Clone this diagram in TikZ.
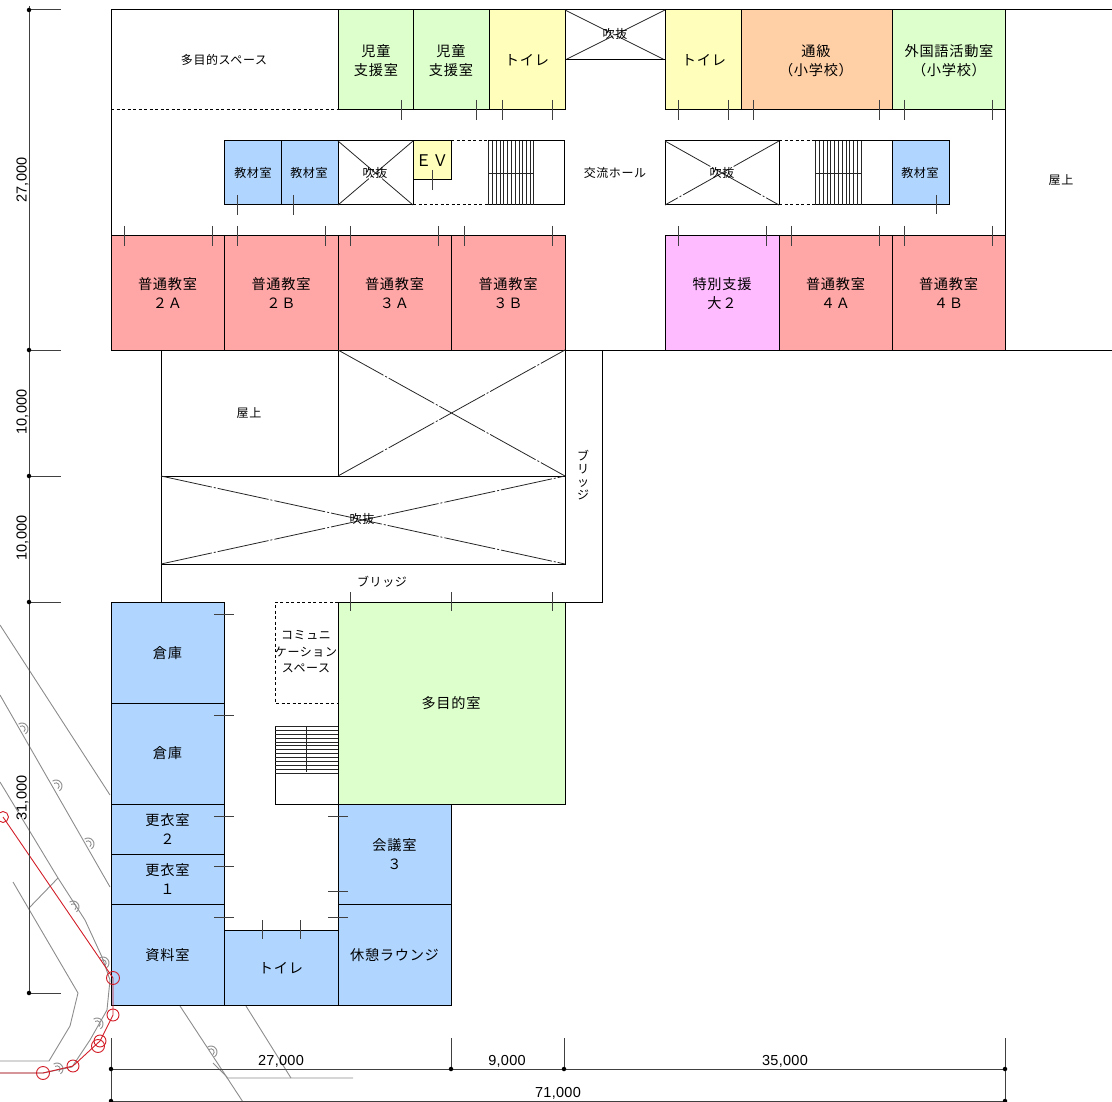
\documentclass[tikz,border=0pt]{standalone}
\usepackage{fontspec}
\setmainfont{Noto Sans CJK JP}[LetterSpace=5]
\newfontfamily\dimfont{Liberation Sans}[LetterSpace=2]
\definecolor{roomred}{RGB}{255,166,166}
\definecolor{roomgreen}{RGB}{221,255,204}
\definecolor{roomyellow}{RGB}{255,255,187}
\definecolor{roomorange}{RGB}{255,208,166}
\definecolor{roomblue}{RGB}{176,214,255}
\definecolor{roompink}{RGB}{255,187,255}
\definecolor{sitegray}{RGB}{140,140,140}
\definecolor{sitered}{RGB}{210,30,40}
\newcommand{\sitearc}[2]{\draw [sitewall] (#1,#2) ++(-125:6) arc (-125:55:6) (#1,#2) ++(-125:3.2) arc (-125:55:3.2);}
\tikzset{
  wall/.style={line width=1pt,black},
  room/.style={wall,fill=#1},
  doortick/.style={line width=1pt,black!75},
  stair/.style={line width=0.8pt,black!85},
  dashwall/.style={line width=1pt,black,dash pattern=on 3pt off 2.5pt},
  void/.style={line width=0.8pt,black!85,dash pattern=on 52pt off 2pt on 2pt off 2pt},
  dimline/.style={line width=1pt,black!75},
  dimdot/.style={circle,fill=black,inner sep=0pt,minimum size=4.5pt},
  sitewall/.style={line width=0.9pt,sitegray},
  siteline/.style={line width=0.9pt,sitered},
  biglabel/.style={font=\fontsize{14.2}{19}\selectfont,align=center,inner sep=0pt},
  smalllabel/.style={font=\fontsize{12}{16.5}\selectfont,align=center,inner sep=0pt},
  dimlabel/.style={font=\dimfont\fontsize{14.5}{16}\selectfont,inner sep=0pt}
}
\begin{document}
\begin{tikzpicture}[x=1pt,y=-1pt]
\useasboundingbox (0,0) rectangle (1112,1102);

% site lines
\draw [sitewall] (0,625) -- (110,795);
\draw [sitewall] (0,695) -- (110,887);
\draw [sitewall] (0,782) -- (58,878) -- (85,920) -- (102,957) -- (110,980) -- (107,1010) -- (90,1040) -- (72,1067) -- (43,1073) -- (0,1073);
\draw [sitewall] (13,882) -- (78,993) -- (70,1026) -- (49,1061) -- (0,1061);
\draw [sitewall] (29,908) -- (58,878);
\draw [sitewall] (180,1006) -- (243,1102);
\draw [sitewall] (246,1006) -- (291,1078);
\draw [sitewall] (213,1063) -- (227,1077) -- (227,1078) -- (353,1078);
\sitearc{22}{729}
\sitearc{56}{786}
\sitearc{88}{844}
\sitearc{73}{907}
\sitearc{103}{963}
\sitearc{97}{1024}
\sitearc{57}{1069}
\sitearc{211}{1052}

% north wing
\draw [wall] (111,10) -- (1112,10);
\draw [wall] (111,10) -- (111,236);
\draw [wall] (1005,10) -- (1005,350);
\draw [wall] (111,350) -- (1112,350);
\draw [dashwall] (111,110) -- (338,110);
\draw [room=roomgreen] (338,10) rectangle (413,110);
\draw [room=roomgreen] (413,10) rectangle (489,110);
\draw [room=roomyellow] (489,10) rectangle (565,110);
\draw [room=roomyellow] (665,10) rectangle (741,110);
\draw [room=roomorange] (741,10) rectangle (892,110);
\draw [room=roomgreen] (892,10) rectangle (1005,110);
\draw [wall] (565,10) rectangle (665,60);
\draw [void] (565,10) -- (665,60);
\draw [void] (665,10) -- (565,60);

\draw [room=roomblue] (224,141) rectangle (281,205);
\draw [room=roomblue] (281,141) rectangle (338,205);
\draw [wall] (338,141) rectangle (413,205);
\draw [void] (338,141) -- (413,205);
\draw [void] (413,141) -- (338,205);
\draw [wall] (413,180) -- (413,205);
\draw [room=roomyellow] (413,141) rectangle (451,180);
\draw [dashwall] (451,141) -- (488,141);
\draw [dashwall] (413,205) -- (488,205);
\draw [wall] (488,141) -- (564,141) -- (564,205) -- (488,205);
\draw [stair] (488,141) -- (488,205) (492,141) -- (492,205) (496,141) -- (496,205) (500,141) -- (500,205) (503,141) -- (503,205) (507,141) -- (507,205) (511,141) -- (511,205) (515,141) -- (515,205) (519,141) -- (519,205) (522,141) -- (522,205) (526,141) -- (526,205) (530,141) -- (530,205) (533,141) -- (533,205);
\draw [stair] (488,173) -- (533,173);

\draw [wall] (665,141) rectangle (779,205);
\draw [void] (665,141) -- (779,205);
\draw [void] (779,141) -- (665,205);
\draw [dashwall] (779,141) -- (815,141);
\draw [dashwall] (779,205) -- (815,205);
\draw [wall] (815,141) -- (892,141);
\draw [wall] (815,205) -- (892,205);
\draw [room=roomblue] (892,141) rectangle (949,205);
\draw [stair] (815,141) -- (815,205) (819,141) -- (819,205) (823,141) -- (823,205) (827,141) -- (827,205) (830,141) -- (830,205) (834,141) -- (834,205) (838,141) -- (838,205) (842,141) -- (842,205) (846,141) -- (846,205) (849,141) -- (849,205) (853,141) -- (853,205) (857,141) -- (857,205) (861,141) -- (861,205);
\draw [stair] (815,173) -- (861,173);

\draw [room=roomred] (111,236) rectangle (224,350);
\draw [room=roomred] (224,236) rectangle (338,350);
\draw [room=roomred] (338,236) rectangle (451,350);
\draw [room=roomred] (451,236) rectangle (565,350);
\draw [room=roompink] (665,236) rectangle (779,350);
\draw [room=roomred] (779,236) rectangle (892,350);
\draw [room=roomred] (892,236) rectangle (1005,350);

% middle part
\draw [wall] (161,350) -- (161,602);
\draw [wall] (602,350) -- (602,602) -- (565,602);
\draw [wall] (338,350) rectangle (565,476);
\draw [void] (338,476) -- (565,350);
\draw [void] (338,350) -- (565,476);
\draw [wall] (161,476) rectangle (565,564);
\draw [void] (161,476) -- (565,564);
\draw [void] (161,564) -- (565,476);

% south wing
\draw [room=roomblue] (111,602) rectangle (224,703);
\draw [room=roomblue] (111,703) rectangle (224,804);
\draw [room=roomblue] (111,804) rectangle (224,854);
\draw [room=roomblue] (111,854) rectangle (224,904);
\draw [room=roomblue] (111,904) rectangle (224,1005);
\draw [room=roomblue] (224,930) rectangle (338,1005);
\draw [room=roomblue] (338,804) rectangle (451,904);
\draw [room=roomblue] (338,904) rectangle (451,1005);
\draw [room=roomgreen] (338,602) rectangle (565,804);
\draw [dashwall] (338,602) -- (275,602) -- (275,703) -- (338,703);
\draw [wall] (275,726) rectangle (338,804);
\draw [stair] (275,726) -- (338,726) (275,730) -- (338,730) (275,734) -- (338,734) (275,738) -- (338,738) (275,742) -- (338,742) (275,745) -- (338,745) (275,749) -- (338,749) (275,753) -- (338,753) (275,757) -- (338,757) (275,761) -- (338,761) (275,765) -- (338,765) (275,769) -- (338,769) (275,773) -- (338,773);
\draw [stair] (306,726) -- (306,772);

% site survey
\draw [siteline] (3,817) -- (113,978) -- (113,1015) -- (100,1041) -- (73,1066) -- (43,1073) -- (0,1073);
\draw [siteline] (3,817) circle (5.5);
\draw [siteline] (113,978) circle (6.5);
\draw [siteline] (113,1015) circle (6);
\draw [siteline] (100,1041) circle (6);
\draw [siteline] (98,1046) circle (6.5);
\draw [siteline] (73,1066) circle (6);
\draw [siteline] (43,1073) circle (6.5);

% door ticks
\draw [doortick] (401,100) -- (401,120) (476,100) -- (476,120) (502,100) -- (502,120) (552,100) -- (552,120);
\draw [doortick] (678,100) -- (678,120) (728,100) -- (728,120) (753,100) -- (753,120) (879,100) -- (879,120) (904,100) -- (904,120) (992,100) -- (992,120);
\draw [doortick] (237,195) -- (237,215) (293,195) -- (293,215) (432,170) -- (432,190) (936,195) -- (936,214);
\draw [doortick] (124,226) -- (124,246) (212,226) -- (212,246) (237,226) -- (237,246) (325,226) -- (325,246) (350,226) -- (350,246) (438,226) -- (438,246) (464,226) -- (464,246) (552,226) -- (552,246);
\draw [doortick] (678,226) -- (678,246) (766,226) -- (766,246) (791,226) -- (791,246) (879,226) -- (879,246) (904,226) -- (904,246) (992,226) -- (992,246);
\draw [doortick] (350,592) -- (350,611) (451,592) -- (451,611) (552,592) -- (552,611);
\draw [doortick] (214,614) -- (234,614) (214,715) -- (234,715) (214,816) -- (234,816) (214,866) -- (234,866) (214,917) -- (234,917);
\draw [doortick] (328,816) -- (348,816) (328,891) -- (348,891) (328,917) -- (348,917);
\draw [doortick] (262,920) -- (262,939) (300,920) -- (300,939);

% dimensions
\draw [dimline] (29,6) -- (29,993);
\draw [dimline] (29,10) -- (61,10) (29,350) -- (61,350) (29,476) -- (61,476) (29,602) -- (61,602) (29,993) -- (61,993);
\node [dimdot] (dot1) at (29,10) {};
\node [dimdot] (dot2) at (29,350) {};
\node [dimdot] (dot3) at (29,476) {};
\node [dimdot] (dot4) at (29,602) {};
\node [dimdot] (dot5) at (29,993) {};
\draw [dimline] (111,1038) -- (111,1102) (451,1038) -- (451,1069) (564,1038) -- (564,1069) (1005,1038) -- (1005,1101);
\draw [dimline] (111,1069) -- (1005,1069) (111,1101) -- (1005,1101);
\node [dimdot] (dot6) at (111,1069) {};
\node [dimdot] (dot7) at (451,1069) {};
\node [dimdot] (dot8) at (564,1069) {};
\node [dimdot] (dot9) at (1005,1069) {};
\node [dimdot] (dot10) at (111,1101) {};
\node [dimdot] (dot11) at (1005,1101) {};
\node [dimlabel,rotate=90] (dim27v) at (22.5,180) {27,000};
\node [dimlabel,rotate=90] (dim10a) at (22.5,412) {10,000};
\node [dimlabel,rotate=90] (dim10b) at (22.5,538) {10,000};
\node [dimlabel,rotate=90] (dim31) at (22.5,798) {31,000};
\node [dimlabel] (dim27h) at (281,1061.5) {27,000};
\node [dimlabel] (dim9) at (507,1061.5) {9,000};
\node [dimlabel] (dim35) at (785,1061.5) {35,000};
\node [dimlabel] (dim71) at (558,1093.5) {71,000};

% room names
\node [smalllabel] (space) at (224,60) {多目的スペース};
\node [biglabel] (support1) at (376,60.5) {児童\\支援室};
\node [biglabel] (support2) at (451,60.5) {児童\\支援室};
\node [biglabel] (wc1) at (527,60) {トイレ};
\node [smalllabel] (void1) at (615,34) {吹抜};
\node [biglabel] (wc2) at (704,60) {トイレ};
\node [biglabel] (tsukyu) at (816,60.5) {通級\\（小学校）};
\node [biglabel] (foreign) at (949,60.5) {外国語活動室\\（小学校）};
\node [smalllabel] (store1) at (253,173) {教材室};
\node [smalllabel] (store2) at (309,173) {教材室};
\node [smalllabel] (void2) at (375,173) {吹抜};
\node [biglabel,font=\fontsize{16}{19}\selectfont] (ev) at (432,161) {ＥＶ};
\node [smalllabel] (hall) at (615,173) {交流ホール};
\node [smalllabel] (void3) at (722,173) {吹抜};
\node [smalllabel] (store3) at (920,173) {教材室};
\node [smalllabel] (roof1) at (1061,180) {屋上};
\node [biglabel] (class2a) at (167.5,293.5) {普通教室\\２Ａ};
\node [biglabel] (class2b) at (281,293.5) {普通教室\\２Ｂ};
\node [biglabel] (class3a) at (394.5,293.5) {普通教室\\３Ａ};
\node [biglabel] (class3b) at (508,293.5) {普通教室\\３Ｂ};
\node [biglabel] (special) at (722,293.5) {特別支援\\大２};
\node [biglabel] (class4a) at (835.5,293.5) {普通教室\\４Ａ};
\node [biglabel] (class4b) at (948.5,293.5) {普通教室\\４Ｂ};
\node [smalllabel] (roof2) at (249,413) {屋上};
\node [smalllabel] (void4) at (362,519) {吹抜};
\node [smalllabel,font=\fontsize{12}{13}\selectfont] (bridge1) at (583,475.5) {ブ\\リ\\ッ\\ジ};
\node [smalllabel] (bridge2) at (382,582) {ブリッジ};
\node [smalllabel] (comm) at (306,652) {コミュニ\\ケーション\\スペース};
\node [biglabel] (multi) at (451,703) {多目的室};
\node [biglabel] (stock1) at (167.5,653) {倉庫};
\node [biglabel] (stock2) at (167.5,753) {倉庫};
\node [biglabel] (locker2) at (167.5,829) {更衣室\\２};
\node [biglabel] (locker1) at (167.5,879) {更衣室\\１};
\node [biglabel] (archive) at (167.5,955) {資料室};
\node [biglabel] (wc3) at (281,968) {トイレ};
\node [biglabel] (meeting) at (394.5,854) {会議室\\３};
\node [biglabel] (lounge) at (394.5,955) {休憩ラウンジ};
\end{tikzpicture}
\end{document}
